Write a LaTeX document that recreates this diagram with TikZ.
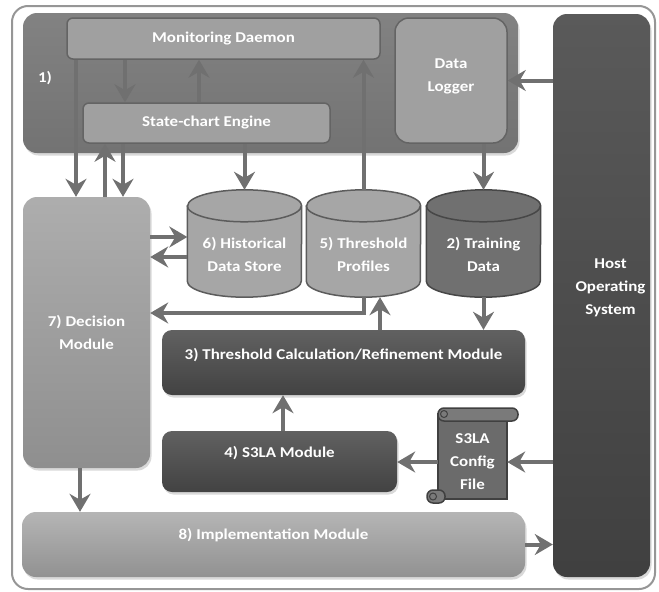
\documentclass[tikz,border=0pt]{standalone}
\usepackage{fontspec}
\setmainfont{Carlito}[FakeStretch=1.13]
\usetikzlibrary{arrows.meta,calc,positioning,shapes.geometric,shadows}
\definecolor{arrgray}{RGB}{112,112,112}
\definecolor{edgegray}{RGB}{100,100,100}
\definecolor{framegray}{RGB}{150,150,150}
\definecolor{lightfill}{RGB}{160,160,160}
\definecolor{hostfill}{RGB}{90,90,90}
% cylinder outline round a named node: #1 node, #2 fill, #3 edge
\newcommand{\dbshape}[3]{%
  \filldraw[fill=#2,draw=#3,line width=1.5pt]
    ($(#1.north west)+(0,16)$) -- ($(#1.south west)+(0,-16)$)
    arc[start angle=180,end angle=0,x radius=57,y radius=16]
    -- ($(#1.north east)+(0,16)$)
    arc[start angle=0,end angle=-180,x radius=57,y radius=16] -- cycle;
  \draw[#3,line width=1.5pt] ($(#1.north west)+(0,16)$)
    arc[start angle=180,end angle=0,x radius=57,y radius=16];}

\begin{document}
\begin{tikzpicture}[x=1pt,y=-1pt,font=\fontsize{15}{23}\selectfont\bfseries,
  box/.style={draw=edgegray,line width=1.5pt,rounded corners=6pt,fill=lightfill,text=white,align=center,inner sep=0pt},
  bigbox/.style={rounded corners=14pt,inner sep=0pt,text=white,align=center,
    drop shadow={shadow xshift=1.5pt,shadow yshift=-2.5pt,opacity=.3}},
  darkbox/.style={bigbox,rounded corners=10pt,top color=black!62,bottom color=black!74},
  dbase/.style={minimum width=114pt,minimum height=107pt,inner sep=0pt},
  lbl/.style={text=white,align=center},
  flow/.style={draw=arrgray,line width=4pt,-{Stealth[length=18pt,width=21pt,inset=6pt]}}]
\useasboundingbox (0,0) rectangle (659,592);
\draw[framegray,line width=2pt,rounded corners=16pt] (12,6) rectangle (655,589);

% 1) monitoring group
\node[bigbox,top color=black!49,bottom color=black!55,minimum width=495pt,minimum height=140pt] (grp) at (270.5,83) {};
\node[lbl] (grplab) at (45,78) {1)};
\node[box,minimum width=313pt,minimum height=41pt] (md) at (223.5,38.5) {Monitoring Daemon};
\node[box,minimum width=247pt,minimum height=40pt] (sce) at (206.5,123) {State-chart Engine};
\node[box,rounded corners=14pt,minimum width=112pt,minimum height=125pt,
  label={[lbl,yshift=4pt]center:Data\\Logger}] (dlog) at (451,80.5) {};

\node[bigbox,top color=hostfill,bottom color=black!75,minimum width=97pt,minimum height=563pt,
  label={[lbl,xshift=9pt,yshift=8pt]center:Host\\Operating\\System}] (host) at (601.5,295.5) {};

\node[bigbox,top color=black!32,bottom color=black!44,minimum width=127pt,minimum height=271pt] (dec) at (86.5,332.5) {7) Decision\\Module};

% data stores
\node[dbase] (hist) at (244.5,243.5) {};
\node[dbase] (thr) at (363.5,243.5) {};
\node[dbase] (train) at (483.5,243.5) {};
\dbshape{hist}{black!35}{black!64}
\dbshape{thr}{black!35}{black!64}
\dbshape{train}{black!56}{black!72}
\node[lbl] (histlab) at ($(hist)+(0,11)$) {6) Historical\\Data Store};
\node[lbl] (thrlab) at ($(thr)+(0,11)$) {5) Threshold\\Profiles};
\node[lbl] (trainlab) at ($(train)+(0,11)$) {2) Training\\Data};

\node[darkbox,minimum width=363pt,minimum height=65pt,
  label={[lbl,yshift=7pt]center:3) Threshold Calculation/Refinement Module}] (calc) at (343.5,362.5) {};
\node[darkbox,minimum width=235pt,minimum height=61pt,
  label={[lbl,yshift=8pt]center:4) S3LA Module}] (slamod) at (279.5,461.5) {};

% config scroll
\filldraw[fill=black!58,draw=black!75,line width=1.5pt] (438,414) rectangle (507,499);
\filldraw[fill=black!52,draw=black!75,line width=1.5pt,rounded corners=6pt] (438,408) rectangle (518,421);
\draw[black!75,line width=1pt] (444,414) circle (3.5pt);
\filldraw[fill=black!52,draw=black!75,line width=1.5pt,rounded corners=6pt] (427,490) rectangle (445,503);
\draw[black!75,line width=1pt] (433,496.5) circle (3.5pt);
\node[lbl,minimum width=69pt,minimum height=70pt,inner sep=0pt] (cfg) at (472.5,462) {S3LA\\Config\\File};

\node[bigbox,top color=black!29,bottom color=black!43,minimum width=503pt,minimum height=65pt,
  label={[lbl,yshift=9pt]center:8) Implementation Module}] (impl) at (273.5,544.5) {};

% connectors
\draw[flow] (md.south -| 76,0) -- (dec.north -| 76,0);
\draw[flow] (dec.north -| 105,0) -- (sce.south -| 105,0);
\draw[flow] (sce.south -| 123,0) -- (dec.north -| 123,0);
\draw[flow] (md.south -| 125,0) -- (sce.north -| 125,0);
\draw[flow] (sce.north -| 199,0) -- (md.south -| 199,0);
\draw[flow] (sce.south -| hist.north) -- (hist.north);
\draw[flow] (thr.north) -- (md.south -| thr.north);
\draw[flow] (dlog.south -| train.north) -- (train.north);
\draw[flow] (host.west |- dlog.east) -- (dlog.east);
\draw[flow] (dec.east |- 0,237) -- (hist.west |- 0,237);
\draw[flow] (hist.west |- 0,257) -- (dec.east |- 0,257);
\draw[flow] (thr.south) |- (dec.east |- 0,313);
\draw[flow] (calc.north -| 380,0) -- (thr.south -| 380,0);
\draw[flow] (train.south) -- (calc.north -| train.south);
\draw[flow] (slamod.north -| 283,0) -- (calc.south -| 283,0);
\draw[flow] (cfg.west) -- (slamod.east |- cfg.west);
\draw[flow] (host.west |- cfg.east) -- (cfg.east);
\draw[flow] (dec.south -| 80,0) -- (impl.north -| 80,0);
\draw[flow] (impl.east) -- (host.west |- impl.east);
\end{tikzpicture}
\end{document}
